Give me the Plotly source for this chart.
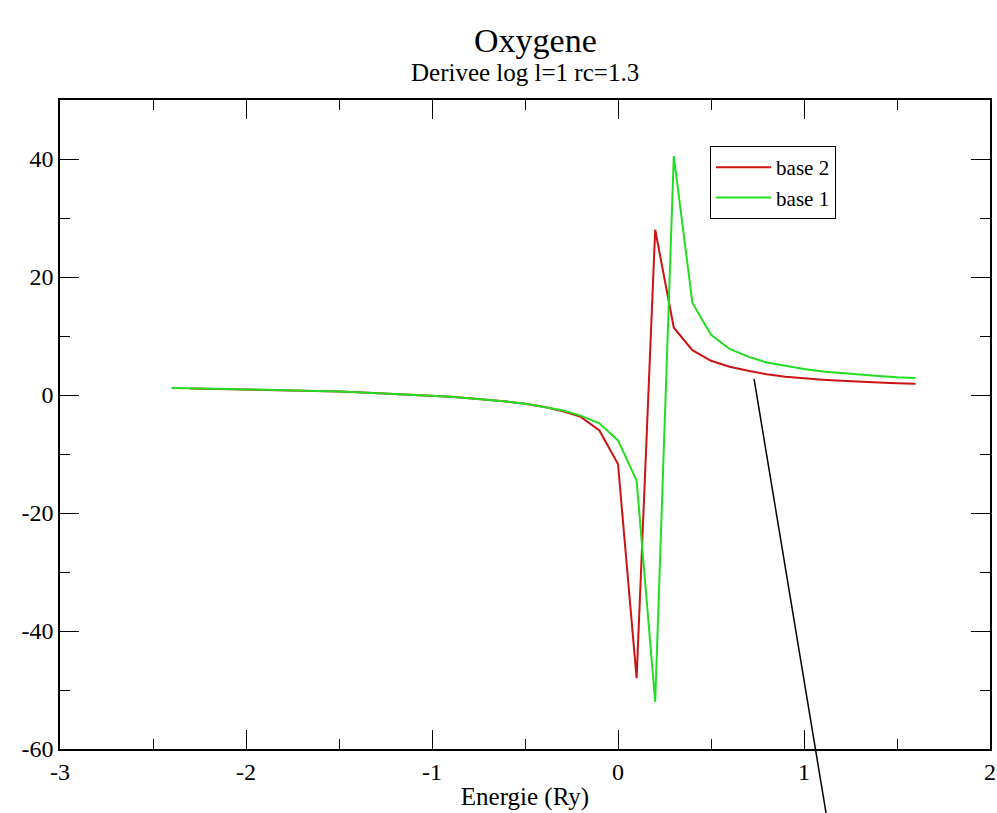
import plotly.graph_objects as go

# ---- data ----
x_base1 = [-2.4, -2.3, -2.2, -2.1, -2.0, -1.9, -1.8, -1.7, -1.6, -1.5, -1.4, -1.3, -1.2, -1.1,
           -1.0, -0.9, -0.8, -0.7, -0.6, -0.5, -0.4, -0.3, -0.2, -0.1, 0.0, 0.1, 0.2, 0.3,
           0.4, 0.5, 0.6, 0.7, 0.8, 0.9, 1.0, 1.1, 1.2, 1.3, 1.4, 1.5, 1.6]
y_base1 = [1.2, 1.1, 1.05, 1.0, 0.95, 0.9, 0.85, 0.75, 0.7, 0.6, 0.45, 0.3, 0.2, 0.05,
           -0.1, -0.3, -0.55, -0.8, -1.1, -1.5, -2.0, -2.6, -3.5, -4.8, -7.7, -14.5, -52.0, 40.5,
           15.6, 10.2, 7.8, 6.5, 5.5, 4.9, 4.4, 4.0, 3.7, 3.4, 3.2, 3.0, 2.9]

x_base2 = [-2.3, -2.2, -2.1, -2.0, -1.9, -1.8, -1.7, -1.6, -1.5, -1.4, -1.3, -1.2, -1.1,
           -1.0, -0.9, -0.8, -0.7, -0.6, -0.5, -0.4, -0.3, -0.2, -0.1, 0.0, 0.1, 0.2, 0.3,
           0.4, 0.5, 0.6, 0.7, 0.8, 0.9, 1.0, 1.1, 1.2, 1.3, 1.4, 1.5, 1.6]
y_base2 = [1.1, 1.05, 1.0, 0.95, 0.9, 0.85, 0.75, 0.7, 0.6, 0.45, 0.3, 0.2, 0.05,
           -0.1, -0.3, -0.55, -0.8, -1.1, -1.5, -2.0, -2.7, -3.7, -6.0, -11.7, -48.0, 28.0, 11.4,
           7.6, 5.8, 4.8, 4.1, 3.5, 3.1, 2.8, 2.6, 2.4, 2.2, 2.1, 2.0, 1.9]

x_tickvals = [-3, -2, -1, 0, 1, 2]
x_ticktext = ["-3", "-2", "-1", "0", "1", "2"]
y_tickvals = [-60, -40, -20, 0, 20, 40]
y_ticktext = ["-60", "-40", "-20", "0", "20", "40"]

title_text = "Oxygene"
subtitle_text = "Derivee log l=1 rc=1.3"
xaxis_label = "Energie (Ry)"

FONT = "Liberation Serif, Times New Roman, serif"

fig = go.Figure()
fig.add_trace(go.Scatter(x=x_base2, y=y_base2, mode="lines", name="base 2",
                         line=dict(color="#cc1414", width=2)))
fig.add_trace(go.Scatter(x=x_base1, y=y_base1, mode="lines", name="base 1",
                         line=dict(color="#22dd22", width=2)))

axis_common = dict(
    showgrid=False, zeroline=False, showline=True, linecolor="black", linewidth=1.5,
    mirror="ticks", ticks="inside", ticklen=19, tickwidth=1, tickcolor="black",
    tickfont=dict(family=FONT, size=24, color="black"), automargin=False,
)

fig.update_layout(
    width=997, height=813,
    margin=dict(l=60, r=7, t=100, b=64),
    paper_bgcolor="white", plot_bgcolor="white",
    font=dict(family=FONT, color="black"),
    showlegend=True,
    legend=dict(x=0.699, y=0.929, xanchor="left", yanchor="top",
                bgcolor="white", bordercolor="black", borderwidth=1,
                font=dict(family=FONT, size=21, color="black"),
                tracegroupgap=0, itemwidth=55),
    xaxis=dict(range=[-3, 2], tickmode="array", tickvals=x_tickvals, ticktext=x_ticktext,
               minor=dict(ticks="inside", ticklen=10, dtick=0.5, tick0=0, tickcolor="black", showgrid=False),
               title=dict(text=xaxis_label, font=dict(family=FONT, size=25), standoff=4),
               **axis_common),
    yaxis=dict(range=[-60, 50], tickmode="array", tickvals=y_tickvals, ticktext=y_ticktext,
               minor=dict(ticks="inside", ticklen=10, dtick=10, tick0=0, tickcolor="black", showgrid=False),
               **axis_common),
    annotations=[
        dict(text=title_text, xref="paper", yref="paper", x=0.511, y=1.092,
             xanchor="center", yanchor="middle", showarrow=False,
             font=dict(family=FONT, size=34, color="black")),
        dict(text=subtitle_text, xref="paper", yref="paper", x=0.5, y=1.0427,
             xanchor="center", yanchor="middle", showarrow=False,
             font=dict(family=FONT, size=25, color="black")),
    ],
    shapes=[
        dict(type="line", xref="paper", yref="paper",
             x0=0.7463, y0=0.5702, x1=0.8237, y1=-0.0986,
             line=dict(color="black", width=1.5)),
    ],
)

fig.write_html("out.html")
